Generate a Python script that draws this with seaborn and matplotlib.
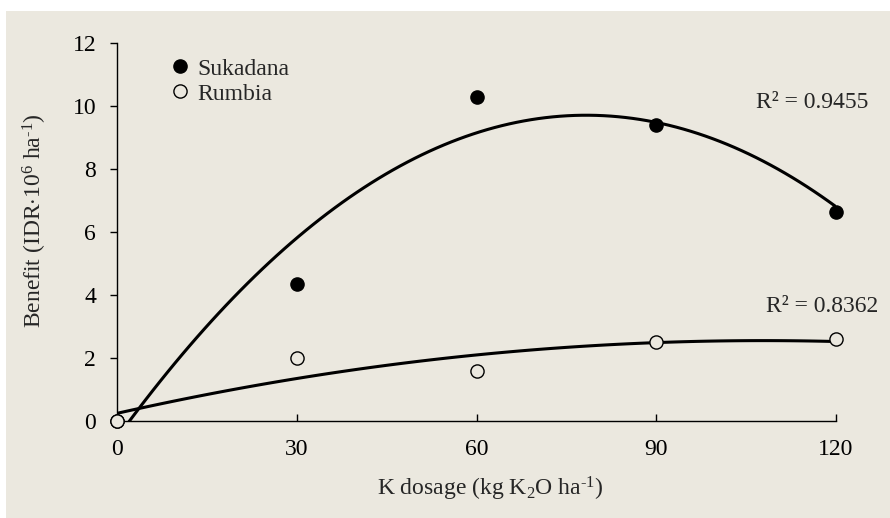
import numpy as np
import pandas as pd
import matplotlib
matplotlib.use("Agg")
import matplotlib.pyplot as plt
from matplotlib.lines import Line2D
from matplotlib.patches import Rectangle
import seaborn as sns

# ---- data ----
k_dose = [0, 30, 60, 90, 120]
sukadana = [0.0, 4.35, 10.3, 9.4, 6.65]
rumbia = [0.0, 2.0, 1.6, 2.5, 2.6]
r2_labels = ["R² = 0.9455", "R² = 0.8362"]
x_ticks = [0, 30, 60, 90, 120]
y_ticks = [0, 2, 4, 6, 8, 10, 12]

sns.set_theme(style="ticks")
plt.rcParams['font.family'] = ['Liberation Serif', 'DejaVu Serif']
plt.rcParams['mathtext.fontset'] = 'custom'
plt.rcParams['mathtext.rm'] = 'Liberation Serif'
plt.rcParams['mathtext.it'] = 'Liberation Serif:italic'

FS = 17
bg = '#EBE8DF'
fig = plt.figure(figsize=(8.9, 5.18), dpi=100)
fig.patch.set_facecolor('white')
fig.patches.append(Rectangle((6/890, 0), 1 - 6/890, 1 - 11/518, transform=fig.transFigure,
                             facecolor=bg, edgecolor='none', zorder=-10))
ax = fig.add_axes([117/890, 1 - 421/518, (836 - 117)/890, (421 - 43)/518])
ax.set_facecolor(bg)
ax.patch.set_alpha(0)

df = pd.DataFrame({"K": k_dose, "Sukadana": sukadana, "Rumbia": rumbia})

sns.regplot(data=df, x="K", y="Sukadana", order=2, ci=None, scatter=False, ax=ax,
            line_kws=dict(color='black', lw=2.2))
sns.regplot(data=df, x="K", y="Rumbia", order=2, ci=None, scatter=False, ax=ax,
            line_kws=dict(color='black', lw=2.2))

sns.scatterplot(data=df, x="K", y="Sukadana", ax=ax, s=90, color='black',
                edgecolor='black', linewidth=1.0, zorder=5, clip_on=False)
sns.scatterplot(data=df, x="K", y="Rumbia", ax=ax, s=90, facecolor=bg,
                edgecolor='black', linewidth=1.0, zorder=5, clip_on=False)

ax.set_xlim(0, 120)
ax.set_ylim(0, 12)
ax.set_xticks(x_ticks)
ax.set_yticks(y_ticks)
for s in ['top', 'right']:
    ax.spines[s].set_visible(False)
for s in ['left', 'bottom']:
    ax.spines[s].set_linewidth(1.0)
    ax.spines[s].set_color('black')
ax.tick_params(axis='x', direction='in', length=5, width=1.0, labelsize=FS, pad=13, colors='black')
ax.tick_params(axis='y', direction='out', length=5, width=1.0, labelsize=FS, pad=10, colors='black')

ax.set_xlabel(r'K dosage (kg K$_2$O ha$^{\text{-}1}$)', fontsize=FS, va='center')
ax.set_ylabel(r'Benefit (IDR$\cdot$10$^{6}$ ha$^{\text{-}1}$)', fontsize=FS, va='center')
ax.xaxis.set_label_coords((490 - 117) / 719, (421 - 489) / 378)
ax.yaxis.set_label_coords((35 - 117) / 719, (421 - 221) / 378)

ax.text(756/890, 1 - 102/518, r2_labels[0], transform=fig.transFigure, fontsize=FS,
        va='center', ha='left')
ax.text(766/890, 1 - 307/518, r2_labels[1], transform=fig.transFigure, fontsize=FS,
        va='center', ha='left')

handles = [Line2D([], [], marker='o', ls='', color='black', markersize=9.5),
           Line2D([], [], marker='o', ls='', markerfacecolor=bg, markeredgecolor='black',
                  markersize=9.5)]
ax.legend(handles, ['Sukadana', 'Rumbia'], loc='upper left', bbox_to_anchor=(0.058, 0.985),
          frameon=False, fontsize=FS, handletextpad=0.25, handlelength=1.0, labelspacing=0.15,
          borderaxespad=0)

fig.savefig('out.png', dpi=100, facecolor=fig.get_facecolor())
